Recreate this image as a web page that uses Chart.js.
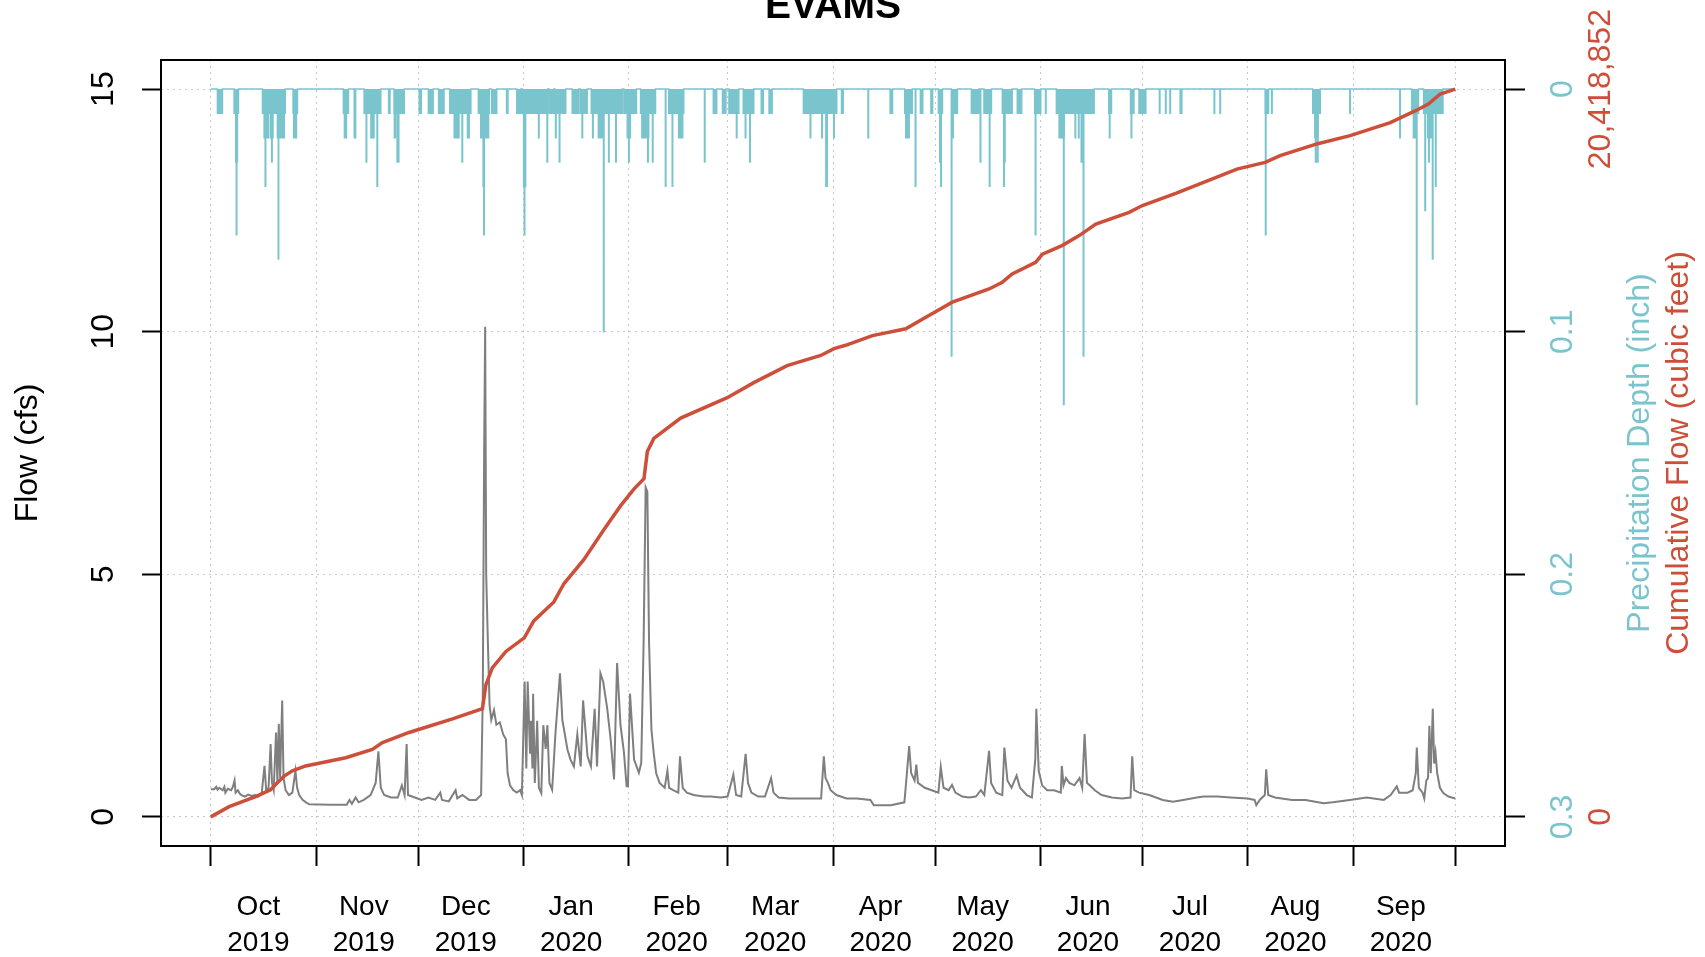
<!DOCTYPE html>
<html><head><meta charset="utf-8">
<script src="https://cdn.jsdelivr.net/npm/chart.js@4.4.1/dist/chart.umd.min.js"></script>
<style>html,body{margin:0;padding:0;background:#fff;overflow:hidden}canvas{display:block}</style>
</head><body>
<canvas id="c" width="1705" height="957"></canvas>
<script>
// ---- data (days since 2019-10-01) ----
const monthStartDays = [0,31,61,92,123,152,183,213,244,274,305,336,366];
const monthLabelDays = [14,45,75,106,137,166,197,227,258,288,319,350];
const monthNames = ['Oct','Nov','Dec','Jan','Feb','Mar','Apr','May','Jun','Jul','Aug','Sep'];
const monthYears = ['2019','2019','2019','2020','2020','2020','2020','2020','2020','2020','2020','2020'];
const flowTicks = [0,5,10,15];
const precipTicks = [0,0.1,0.2,0.3];
const cumTicks = [0,20418852];

const flowDays = [
 0,1,1.6,2,2.5,3.5,4,4.3,5,6,
 6.5,7,7.3,8,8.5,9,10,11,12,13,
 14,15,15.8,16.3,17,17.6,18,18.5,19.2,19.6,
 20,20.4,21,21.4,22,23,24,24.9,25.4,26,
 27,28,29,35,40,40.8,41.5,42.6,43.5,45,
 47,48.5,49.3,50,51,53,55,56.2,57,57.6,
 58,60,62,64,66,67.5,68,70,72,72.5,
 74,76,78,79.5,80,80.4,80.7,81,81.5,82,
 82.5,83.3,84,85,86,86.8,87.3,88,89,90,
 91,91.5,92.3,92.8,93.2,93.9,94.2,94.6,94.8,95.3,
 96,96.5,97.2,97.8,98.5,99,99.6,100.4,101.4,102.7,
 103.4,104.9,105.8,106.8,107.8,108.8,109.5,110.8,111.8,112.9,
 113.6,114.6,115.4,116.6,117.6,118.6,119.5,120.5,121.5,122.3,
 122.7,123.3,124.5,125.9,126.6,127.3,127.9,128.4,128.9,129.6,
 130.3,131,132,133.5,134.3,134.8,136,137.5,138,138.8,
 140,142,145,147,150,152,153.7,154.5,156,157.3,
 158,159,161,163,164.8,165.5,167,170,175,179.5,
 180.3,180.8,181.5,182.3,184,187,190,194,195,200,
 204,204.7,205.4,206,207,207.5,208,210,212,214,
 214.7,215.5,217,218,219,221,223,225,226.5,227.5,
 228.9,229.5,231,232.8,233.4,234.3,235.5,237,238,240,
 241.5,242.5,242.8,243.5,244.5,246,248,250,250.3,250.8,
 251.5,252.5,254,255.5,256.3,257,257.7,258.5,260,262,
 265,268,270.5,271,271.6,273,276,280,283,286,
 290,292,296,300,305,307,307.5,308.5,310,310.4,
 311,313,318,322,327.3,330,335,340,345,347,
 348.8,349.5,352,353.5,354.4,354.7,355.3,356.4,356.9,357.5,
 358,358.4,358.8,359.4,359.8,360.2,360.7,361.5,362.5,364,
 366];
const flowCfs = [
 0.57,0.57,0.62,0.56,0.6,0.55,0.62,0.5,0.58,0.55,
 0.62,0.75,0.5,0.55,0.48,0.45,0.42,0.46,0.43,0.45,
 0.42,0.5,1.05,0.55,0.6,1.5,0.7,0.55,1.74,0.7,
 1.92,0.8,2.4,0.8,0.55,0.45,0.5,0.95,0.6,0.45,
 0.35,0.3,0.26,0.25,0.25,0.35,0.27,0.4,0.3,0.35,
 0.45,0.7,1.35,0.6,0.45,0.4,0.4,0.65,0.45,1.5,
 0.45,0.4,0.35,0.4,0.35,0.5,0.35,0.32,0.55,0.38,
 0.45,0.35,0.35,0.45,2.5,7.5,10.1,5,3.6,2.3,
 2.0,2.2,1.9,1.95,1.7,1.6,0.9,0.65,0.55,0.5,
 0.55,0.45,2.79,1.0,2.79,1.3,1.98,1.0,2.54,0.7,
 1.98,0.6,0.49,1.89,1.4,1.89,0.7,0.56,1.75,2.96,
 2.0,1.39,1.18,1.04,1.7,1.04,2.4,1.25,1.04,2.23,
 1.04,2.96,2.79,2.23,1.6,0.77,3.17,1.89,1.34,0.63,
 0.63,2.54,1.18,0.91,1.11,3.6,6.79,6.7,3.6,1.8,
 1.3,0.9,0.7,0.6,0.95,0.6,0.55,0.5,1.25,0.6,
 0.5,0.45,0.42,0.42,0.4,0.42,0.87,0.45,0.42,1.3,
 0.7,0.5,0.42,0.42,0.8,0.5,0.4,0.38,0.38,0.38,
 1.25,0.8,0.7,0.55,0.45,0.38,0.38,0.35,0.24,0.24,
 0.3,0.87,1.46,0.9,0.75,1.08,0.7,0.6,0.55,0.5,
 1.03,0.6,0.55,0.66,0.5,0.42,0.4,0.42,0.55,0.45,
 1.36,0.7,0.5,0.45,1.43,0.75,0.6,0.85,0.6,0.45,
 0.4,1.2,2.23,0.95,0.65,0.55,0.55,0.5,1.05,0.65,
 0.8,0.7,0.65,0.8,0.6,1.71,0.7,0.65,0.55,0.45,
 0.4,0.38,0.4,1.25,0.55,0.5,0.45,0.35,0.31,0.35,
 0.4,0.42,0.42,0.4,0.38,0.35,0.24,0.35,0.45,0.98,
 0.45,0.4,0.35,0.35,0.28,0.3,0.35,0.4,0.35,0.45,
 0.63,0.5,0.5,0.55,0.9,1.43,0.6,0.5,0.38,0.75,
 0.8,1.88,0.9,2.23,1.1,1.32,0.9,0.6,0.49,0.42,
 0.38];

const cumDays = [0,5.4,13.2,17.6,19.5,21.6,24,27.9,39.7,47.5,
 50.5,58.3,71.1,79.9,80.9,82.8,86.8,92.2,95,100.9,
 103.9,109.7,115.6,120.5,124.5,127.4,128.4,130.3,138.2,151.9,
 159.7,169.5,179.4,183.3,186.7,194.6,204.4,210.3,218.1,228.9,
 232.8,235.7,242.6,244.6,250.5,255.4,260.3,270.1,274,283.8,
 292,301.8,310.1,314.5,325.3,335.1,346.9,354.2,358.1,361.6,
 366];
const cumCubicFeet = [0,285864,571728,762304,952880,1143456,1293194,1429320,1660733,1892147,
 2082723,2368587,2749739,3035603,3702619,4179058,4641886,5023038,5499478,6030368,
 6547645,7214661,8058440,8725456,9202096,9487960,10250264,10617803,11189531,11761259,
 12183248,12659688,12945552,13136128,13231416,13503668,13694244,14020945,14442935,14810474,
 15001050,15232464,15559165,15790579,16035605,16307857,16634558,16961260,17151836,17492150,
 17805239,18172778,18363354,18553930,18880632,19112045,19479585,19806286,19996862,20282726,
 20418852];

const precipStart = [
 1.96,6.86,7.35,7.5,15.2,15.7,16.0,17.6,17.9,19.6,
 19.85,24.2,24.4,39.0,39.3,42.2,45.1,45.7,47.1,48.9,
 52.3,53.9,54.0,54.8,61.3,64.0,67.0,70.3,71.6,73.9,
 75.5,78.7,79.4,80.1,80.3,82.6,87.0,90.0,91.6,92.0,
 92.2,96.4,98.9,99.5,101.2,101.4,102.5,106.3,108.7,109.2,
 111.9,112.3,114.0,115.5,117.0,119.1,121.5,122.5,122.9,126.4,
 126.8,128.5,129.9,133.7,134.7,135.7,137.6,145.2,147.8,150.5,
 152.4,154.6,156.6,157.2,158.5,161.9,164.2,174.3,176.3,179.7,
 180.9,183.2,185.5,193.3,199.8,204.1,204.4,207.2,208.7,211.8,
 214.0,214.4,214.7,217.8,217.8,218.2,223.7,226.3,227.4,229.0,
 232.8,233.2,233.5,237.2,242.3,242.5,245.5,248.7,249.5,250.8,
 254.2,255.2,256.0,256.6,264.1,264.3,270.5,270.7,273.0,279.0,
 280.8,282.1,285.1,295.1,296.8,310.1,310.2,312.0,324.1,324.7,
 324.9,325.5,335.0,349.7,353.2,353.7,354.6,356.7,357.1,357.9,
 358.2,359.3,360.2];
const precipEnd = [
 3.43,8.14,7.84,7.65,21.9,17.0,16.15,18.3,18.05,21.6,
 19.97,25.5,25.2,40.5,39.9,42.6,50.0,45.85,48.0,49.05,
 52.7,56.9,54.3,55.3,61.9,65.4,68.6,76.5,73.0,74.05,
 76.0,81.9,81.7,80.3,80.45,84.1,87.4,91.2,99.0,92.6,
 92.35,96.55,99.05,100.9,104.4,101.55,102.65,108.2,110.7,109.35,
 121.0,112.45,115.5,115.65,117.15,119.25,125.2,123.4,123.05,130.8,
 128.8,128.65,130.05,133.85,139.1,135.85,138.8,145.35,148.8,151.5,
 155.3,154.75,159.7,157.35,158.65,162.5,165.1,184.1,176.45,179.85,
 181.3,183.35,186.0,193.45,200.5,206.3,205.4,207.35,209.4,212.3,
 215.2,214.55,214.85,219.6,217.95,218.35,225.9,226.45,229.6,229.15,
 235.7,233.35,233.6,238.5,244.1,242.65,245.65,259.8,251.0,250.95,
 254.35,255.35,256.15,256.75,264.9,264.45,271.5,270.85,275.0,279.15,
 280.95,282.25,285.6,295.25,296.95,311.1,310.35,312.15,326.3,325.7,
 325.05,325.65,335.15,349.85,355.2,354.7,354.75,362.4,357.25,358.9,
 358.35,359.45,360.35];
const precipInch = [
 0.01,0.01,0.03,0.06,0.01,0.02,0.04,0.02,0.03,0.02,
 0.07,0.01,0.02,0.01,0.02,0.02,0.01,0.03,0.02,0.04,
 0.01,0.01,0.02,0.03,0.01,0.01,0.01,0.01,0.02,0.03,
 0.02,0.01,0.02,0.04,0.06,0.01,0.01,0.01,0.01,0.04,
 0.06,0.02,0.03,0.01,0.01,0.02,0.03,0.01,0.01,0.02,
 0.01,0.02,0.02,0.10,0.03,0.03,0.01,0.02,0.03,0.01,
 0.02,0.03,0.03,0.04,0.01,0.04,0.02,0.03,0.01,0.01,
 0.01,0.02,0.01,0.02,0.03,0.01,0.01,0.01,0.02,0.02,
 0.04,0.02,0.01,0.02,0.01,0.01,0.02,0.04,0.01,0.01,
 0.01,0.03,0.04,0.01,0.11,0.02,0.01,0.03,0.01,0.04,
 0.01,0.04,0.03,0.01,0.01,0.06,0.01,0.01,0.02,0.13,
 0.02,0.02,0.03,0.11,0.01,0.02,0.01,0.02,0.01,0.01,
 0.01,0.01,0.01,0.01,0.01,0.01,0.06,0.01,0.01,0.02,
 0.03,0.03,0.01,0.02,0.01,0.02,0.13,0.01,0.05,0.02,
 0.03,0.07,0.04];

// ---- derived tables for the library ----
const FONT = '"Liberation Sans", Arial, Helvetica, sans-serif';
const dayMin = monthStartDays[0], dayMax = monthStartDays[monthStartDays.length-1];
const xPad = (dayMax - dayMin) * 0.04;
const flowMax = 15, yPad = flowMax * 0.04;
const precipMax = 0.3, precipPad = precipMax * 0.04;
const cumMax = cumTicks[1], cumPad = cumMax * 0.04;

const flowData = flowDays.map((d,i)=>({x:d, y:flowCfs[i]}));
const cumData = cumDays.map((d,i)=>({x:d, y:cumCubicFeet[i]}));
const bounds = Array.from(new Set([dayMin, dayMax, ...precipStart, ...precipEnd])).sort((a,b)=>a-b);
const precipData = [];
for (let i=0;i<bounds.length-1;i++){
  const a=bounds[i], b=bounds[i+1], m=(a+b)/2;
  let v=0;
  for (let k=0;k<precipStart.length;k++) if (precipStart[k]<=m && m<precipEnd[k]) v=Math.max(v,precipInch[k]);
  precipData.push({x:a,y:v});
}
precipData.push({x:dayMax,y:0});

const TEAL = '#7AC5CD', RED = '#CD4F39', GRAY = '#7F7F7F', GRID = '#c8c8c8';
const ROT_SIZE = 32;

const boxPlugin = {
  id:'box',
  afterDraw(chart){
    const {ctx, chartArea:a} = chart;
    ctx.save(); ctx.strokeStyle='#000'; ctx.lineWidth=2;
    ctx.strokeRect(a.left, a.top, a.right-a.left, a.bottom-a.top);
    ctx.restore();
  }
};
const sideTitles = {
  id:'sideTitles',
  afterDraw(chart){
    const {ctx, chartArea:a} = chart;
    const cy = (a.top + a.bottom)/2;
    ctx.save();
    ctx.font = ROT_SIZE + 'px ' + FONT; ctx.textAlign='center'; ctx.textBaseline='middle';
    [[a.right+135,'Precipitation Depth (inch)',TEAL],[a.right+174,'Cumulative Flow (cubic feet)',RED]].forEach(([x,t,c])=>{
      ctx.save(); ctx.translate(x,cy); ctx.rotate(-Math.PI/2); ctx.fillStyle=c; ctx.fillText(t,0,0); ctx.restore();
    });
    ctx.restore();
  }
};

new Chart(document.getElementById('c'), {
  type:'line',
  data:{datasets:[
    {label:'Cumulative Flow', data:cumData, yAxisID:'yc', xAxisID:'x', borderColor:RED, borderWidth:3.5, pointRadius:0, tension:0, order:0},
    {label:'Precipitation', data:precipData, yAxisID:'yp', xAxisID:'x', borderColor:TEAL, backgroundColor:TEAL, borderWidth:1.5, pointRadius:0, stepped:true, fill:'origin', order:1},
    {label:'Flow', data:flowData, yAxisID:'y', xAxisID:'x', borderColor:GRAY, borderWidth:2, pointRadius:0, tension:0, order:2}
  ]},
  plugins:[boxPlugin, sideTitles],
  options:{
    responsive:false, animation:false, devicePixelRatio:1,
    layout:{padding:0},
    plugins:{
      legend:{display:false}, tooltip:{enabled:false},
      title:{display:true, text:'EVAMS', fullSize:false, color:'#000', font:{family:FONT, size:39, weight:'bold'}, padding:{top:-16.4, bottom:29.6}}
    },
    scales:{
      x:{type:'linear', position:'bottom', weight:0, min:dayMin-xPad, max:dayMax+xPad,
        afterBuildTicks:s=>{ s.ticks = monthStartDays.map(v=>({value:v})); },
        ticks:{display:false},
        grid:{color:GRID, lineWidth:1, drawTicks:true, tickLength:20, tickColor:'#000', tickWidth:2},
        border:{display:false, dash:[2,4]},
        afterFit:s=>{ s.height=20; s.paddingLeft=0; s.paddingRight=0; }
      },
      xl:{type:'linear', position:'bottom', weight:1, min:dayMin-xPad, max:dayMax+xPad,
        afterBuildTicks:s=>{ s.ticks = monthLabelDays.map(v=>({value:v})); },
        ticks:{autoSkip:false, minRotation:0, maxRotation:0, padding:23, color:'#000', font:{family:FONT, size:28, lineHeight:1.3},
          callback:(v,i)=>[monthNames[i], monthYears[i]]},
        grid:{display:false, drawTicks:false}, border:{display:false},
        afterFit:s=>{ s.height=91; s.paddingLeft=0; s.paddingRight=0; }
      },
      y:{type:'linear', position:'left', min:-yPad, max:flowMax+yPad,
        afterBuildTicks:s=>{ s.ticks = flowTicks.map(v=>({value:v})); },
        ticks:{minRotation:90, maxRotation:90, crossAlign:'center', padding:20.2, color:'#000', font:{family:FONT, size:ROT_SIZE}, callback:v=>String(v)},
        grid:{color:GRID, lineWidth:1, tickLength:19, tickColor:'#000', tickWidth:2},
        border:{display:false, dash:[2,4]},
        title:{display:true, text:'Flow (cfs)', color:'#000', font:{family:FONT, size:ROT_SIZE}, padding:{top:9, bottom:0}},
        afterFit:s=>{ s.width=161; s.paddingTop=0; s.paddingBottom=0; }
      },
      yp:{type:'linear', position:'right', weight:0, reverse:true, min:-precipPad, max:precipMax+precipPad,
        afterBuildTicks:s=>{ s.ticks = precipTicks.map(v=>({value:v})); },
        ticks:{minRotation:90, maxRotation:90, crossAlign:'center', padding:15.8, color:TEAL, font:{family:FONT, size:ROT_SIZE}, callback:v=>String(v)},
        grid:{drawOnChartArea:false, tickLength:20, tickColor:'#000', tickWidth:2},
        border:{display:false},
        afterFit:s=>{ s.width=75; s.paddingTop=0; s.paddingBottom=0; }
      },
      yc:{type:'linear', position:'right', weight:1, min:-cumPad, max:cumMax+cumPad,
        afterBuildTicks:s=>{ s.ticks = cumTicks.map(v=>({value:v})); },
        ticks:{minRotation:90, maxRotation:90, crossAlign:'center', padding:-59, color:RED, font:{family:FONT, size:ROT_SIZE}, callback:v=>v.toLocaleString('en-US')},
        grid:{display:false, drawOnChartArea:false, drawTicks:false},
        border:{display:false},
        afterFit:s=>{ s.width=125; s.paddingTop=0; s.paddingBottom=0; }
      }
    }
  }
});
</script>
</body></html>
